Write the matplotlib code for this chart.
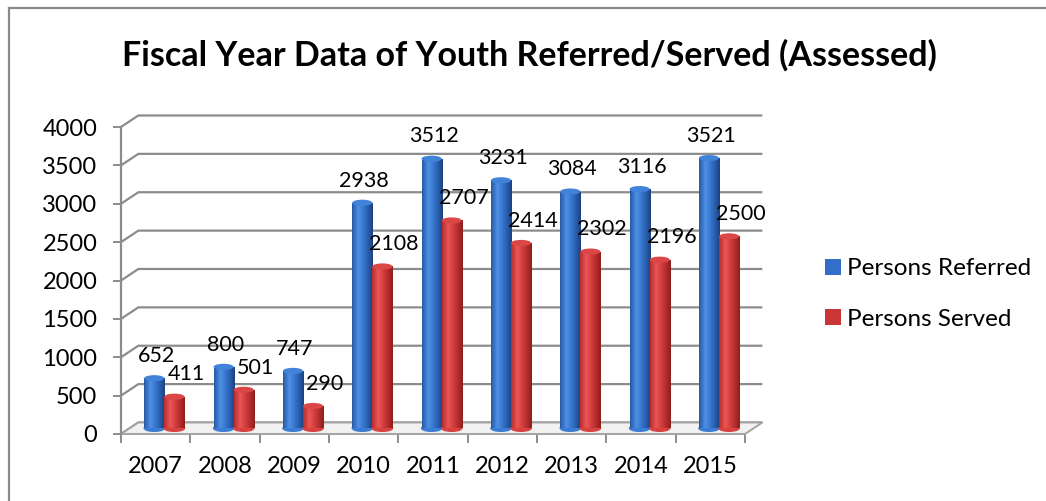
import numpy as np
import matplotlib.pyplot as plt
from matplotlib.colors import LinearSegmentedColormap
from matplotlib.patches import Ellipse, Polygon, Patch
from matplotlib.lines import Line2D

years = ['2007', '2008', '2009', '2010', '2011', '2012', '2013', '2014', '2015']
referred = [652, 800, 747, 2938, 3512, 3231, 3084, 3116, 3521]
served = [411, 501, 290, 2108, 2707, 2414, 2302, 2196, 2500]
series_names = ['Persons Referred', 'Persons Served']
y_ticks = [0, 500, 1000, 1500, 2000, 2500, 3000, 3500, 4000]

plt.rcParams['font.family'] = ['Lato', 'DejaVu Sans']

W, H = 1046, 501
fig = plt.figure(figsize=(W / 100, H / 100), dpi=100)
# front plane of the 3-D box, in figure pixels
left, right, bottom, top = 121, 745, 434, 127
ax = fig.add_axes([left / W, 1 - bottom / H, (right - left) / W, (bottom - top) / H])

grid_col = '#8c8c8c'
DX, DY = 0.25, 150      # depth of the box (category units, value units)
bw = 0.29               # width of a single cylinder
cap_h = 80              # height of the ellipse caps in value units

x = np.arange(len(years))
n = len(years)

# back wall gridlines with the receding diagonal on the left
for v in y_ticks:
    ax.plot([-0.5, -0.5 + DX, n - 0.5 + DX], [v, v + DY, v + DY],
            color=grid_col, lw=1.6, clip_on=False, zorder=1, solid_capstyle='butt')

# floor plate
floor = Polygon([(-0.5, 0), (n - 0.5, 0), (n - 0.5 + DX, DY), (-0.5 + DX, DY)],
                closed=True, facecolor='#f1f1f1', edgecolor='#a3a3a3', lw=1.4,
                zorder=2, clip_on=False)
ax.add_patch(floor)


def shade(colors):
    return LinearSegmentedColormap.from_list('c', colors)


blue_map = shade([(0.0, '#2658a3'), (0.3, '#4f8fe4'), (0.55, '#3677d0'), (1.0, '#1c4182')])
red_map = shade([(0.0, '#b82c2c'), (0.3, '#e85656'), (0.55, '#d53c3c'), (1.0, '#8e1d1d')])
grad = np.linspace(0, 1, 128)[None, :]


def cylinders(xpos, vals, cmap, base_col, top_col, z):
    bars = ax.bar(xpos, vals, bw, bottom=DY / 2, color=base_col, zorder=z)
    for rect, v in zip(bars.patches, vals):
        x0 = rect.get_x()
        xc = x0 + bw / 2
        ax.add_patch(Ellipse((xc, DY / 2), bw, cap_h, color=cmap(0.5), zorder=z - 0.1))
        im = ax.imshow(grad, cmap=cmap, aspect='auto', zorder=z + 0.05,
                       extent=(x0, x0 + bw, DY / 2, DY / 2 + v), interpolation='bilinear')
        im.set_clip_path(rect)
        ax.add_patch(Ellipse((xc, DY / 2 + v), bw, cap_h, facecolor=top_col,
                             edgecolor='none', zorder=z + 0.1))
    return bars


xb = x - bw / 2 + DX / 2
xr = x + bw / 2 + DX / 2
cylinders(xb, referred, blue_map, '#316fc8', '#4283da', 3)
cylinders(xr, served, red_map, '#ca3636', '#db4646', 4)

# value labels
for xi, v in zip(xb, referred):
    ax.annotate(str(v), (xi, v + DY / 2), xytext=(1.5, 16), textcoords='offset points',
                ha='center', va='center', fontsize=15.5, color='black', zorder=6)
for xi, v in zip(xr, served):
    ax.annotate(str(v), (xi, v + DY / 2), xytext=(8.5, 16), textcoords='offset points',
                ha='center', va='center', fontsize=15.5, color='black', zorder=6)

ax.set_xlim(-0.5, n - 0.5)
ax.set_ylim(0, 4000)
ax.set_yticks(y_ticks)
ax.set_xticks(np.arange(n + 1) - 0.5)
ax.set_xticklabels([])
ax.set_xticks(x, minor=True)
ax.set_xticklabels(years, minor=True)
ax.tick_params(axis='y', length=6, width=1.4, color=grid_col, pad=11, labelsize=17)
ax.tick_params(axis='x', which='major', length=6.5, width=1.4, color=grid_col)
ax.tick_params(axis='x', which='minor', length=0, pad=16, labelsize=17)
for s in ['top', 'right', 'bottom']:
    ax.spines[s].set_visible(False)
ax.spines['left'].set_color(grid_col)
ax.spines['left'].set_linewidth(1.6)
ax.patch.set_visible(False)

fig.text(529 / W, 1 - 55 / H, 'Fiscal Year Data of Youth Referred/Served (Assessed)',
         ha='center', va='center', fontsize=24.5, fontweight='bold')

handles = [Patch(facecolor='#316fc8', edgecolor='none'),
           Patch(facecolor='#ca3636', edgecolor='none')]
fig.legend(handles, series_names, loc='center left', bbox_to_anchor=(815 / W, 1 - 294 / H),
           frameon=False, fontsize=17.5, handlelength=0.68, handleheight=0.68,
           handletextpad=0.25, labelspacing=1.2, borderaxespad=0)

# chart area border
fig.add_artist(Line2D([9 / W, 1], [1 - 8 / H, 1 - 8 / H], color='#8a8a8a', lw=1.6))
fig.add_artist(Line2D([9 / W, 9 / W], [0, 1 - 8 / H], color='#8a8a8a', lw=1.6))

fig.savefig('out.png', dpi=100)
